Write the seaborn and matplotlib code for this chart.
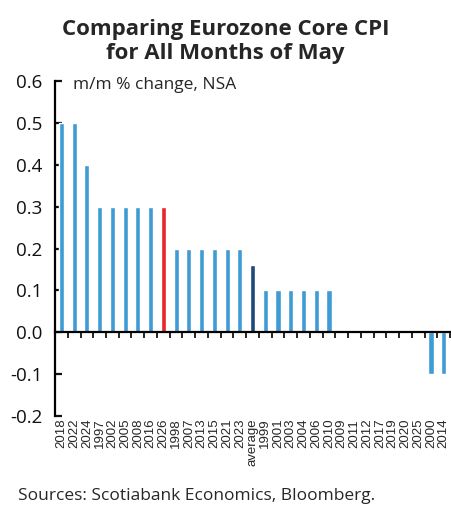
import matplotlib
matplotlib.use("Agg")
import matplotlib.pyplot as plt
import seaborn as sns
import pandas as pd
from matplotlib.ticker import MultipleLocator, FixedLocator

years = ["2018", "2022", "2024", "1997", "2002", "2005", "2008", "2016", "2026",
         "1998", "2007", "2013", "2015", "2021", "2023", "average",
         "1999", "2001", "2003", "2004", "2006", "2010",
         "2009", "2011", "2012", "2017", "2019", "2020", "2025", "2000", "2014"]
values = [0.5, 0.5, 0.4, 0.3, 0.3, 0.3, 0.3, 0.3, 0.3,
          0.2, 0.2, 0.2, 0.2, 0.2, 0.2, 0.16,
          0.1, 0.1, 0.1, 0.1, 0.1, 0.1,
          0.0, 0.0, 0.0, 0.0, 0.0, 0.0, 0.0, -0.1, -0.1]
highlight = {"2026": "latest", "average": "average"}

df = pd.DataFrame({"year": years, "value": values})
df["group"] = [highlight.get(y, "other") for y in years]
palette = {"other": "#3f9bd3", "latest": "#e8262c", "average": "#1d4a7a"}

sns.set_style("white")
plt.rcParams["font.family"] = ["Liberation Sans", "DejaVu Sans"]
humanist = ["Open Sans", "DejaVu Sans"]

fig = plt.figure(figsize=(4.51, 5.07), dpi=100)
ax = fig.add_axes([0.122, 0.1795, 0.876, 0.6605])

sns.barplot(data=df, x="year", y="value", hue="group", palette=palette,
            dodge=False, width=0.4, legend=False, ax=ax, saturation=1)

ax.set_xlim(-0.5, len(years) - 0.5)
ax.set_ylim(-0.2, 0.6)
ax.set_xlabel("")
ax.set_ylabel("")

for s in ["top", "right"]:
    ax.spines[s].set_visible(False)
ax.spines["left"].set_linewidth(1.6)
ax.spines["left"].set_color("black")
ax.spines["bottom"].set_position(("data", 0))
ax.spines["bottom"].set_linewidth(1.6)
ax.spines["bottom"].set_color("black")

ax.yaxis.set_major_locator(MultipleLocator(0.1))
ax.yaxis.set_major_formatter(matplotlib.ticker.FormatStrFormatter("%.1f"))
ax.tick_params(axis="y", direction="in", length=5, width=1.6, pad=9,
               labelsize=13.5, colors="#111111", left=True)
for lbl in ax.get_yticklabels():
    lbl.set_family(humanist)

ax.xaxis.set_major_locator(FixedLocator([i - 0.5 for i in range(len(years) + 1)]))
ax.tick_params(axis="x", direction="out", length=4, width=1.4, bottom=True,
               labelbottom=False)

sec = ax.secondary_xaxis("bottom")
sec.set_xticks(range(len(years)))
sec.set_xticklabels(years, rotation=90, fontsize=9.5)
sec.tick_params(length=0, pad=2)
sec.spines["bottom"].set_visible(False)

fig.text(0.5, 0.918, "Comparing Eurozone Core CPI\nfor All Months of May",
         ha="center", va="center", fontsize=16, fontweight="bold",
         family=humanist, linespacing=1.2)
ax.text(0.9, 0.59, "m/m % change, NSA", transform=ax.transData,
        ha="left", va="center", fontsize=12.5, family=humanist)
fig.text(0.04, 0.022, "Sources: Scotiabank Economics, Bloomberg.",
         ha="left", va="center", fontsize=12.5, family=humanist)

fig.savefig("out.png", dpi=100)
